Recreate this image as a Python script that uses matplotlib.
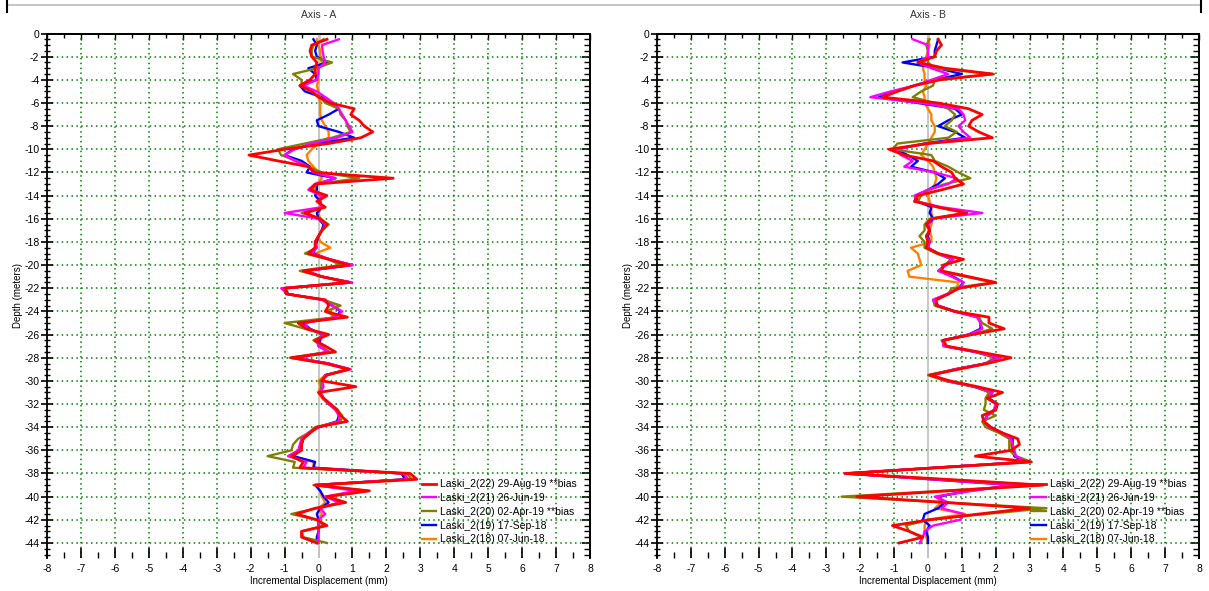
import numpy as np
import matplotlib
matplotlib.use('Agg')
import matplotlib.pyplot as plt
from matplotlib.lines import Line2D
from matplotlib.ticker import MultipleLocator

plt.rcParams['font.family'] = ['Liberation Sans', 'DejaVu Sans']
plt.rcParams['axes.unicode_minus'] = False

# Readings every 0.5 m from -0.5 m down to -44 m
depth = np.arange(1, 89) * -0.5

labels = ['Laski_2(22) 29-Aug-19 **bias', 'Laski_2(21) 26-Jun-19',
          'Laski_2(20) 02-Apr-19 **bias', 'Laski_2(19) 17-Sep-18',
          'Laski_2(18) 07-Jun-18']
colors = ['#ff0000', '#ff00ff', '#808000', '#0000ff', '#ff8000']

# ---- Axis A (mm) ----
a_22 = [0.25, -0.2, -0.25, -0.2, -0.05, -0.1, -0.1, -0.25, -0.55, -0.2,
        0.0, 0.35, 1.05, 0.95, 1.2, 1.35, 1.6, 1.25, 0.3, -1.0,
        -2.05, -1.2, -0.3, -0.1, 2.2, -0.1, -0.25, 0.25, -0.05, 0.2,
        -0.4, 0.05, 0.25, 0.1, 0.0, -0.1, -0.1, -0.3, 0.3, 0.9,
        -0.45, 0.1, 0.9, -1.0, -0.95, 0.2, 0.3, 0.2, 0.85, -0.6,
        -0.35, 0.3, -0.1, 0.2, 0.5, -0.8, 0.2, 0.9, 0.25, 0.1,
        1.1, 0.0, 0.15, 0.35, 0.55, 0.65, 0.85, -0.05, -0.25, -0.45,
        -0.5, -0.5, -0.8, -0.45, -0.55, 2.7, 2.9, -0.1, 1.5, 0.25,
        0.8, -0.1, -0.65, -0.05, 0.25, -0.5, -0.5, -0.05]
a_21 = [0.6, 0.1, 0.12, 0.15, 0.2, 0.0, 0.0, -0.05, -0.45, -0.05,
        0.2, 0.45, 0.6, 0.7, 0.8, 0.9, 1.0, 0.55, -0.2, -0.7,
        -1.0, -0.7, -0.3, -0.15, 0.5, -0.1, -0.3, 0.1, 0.0, 0.1,
        -1.0, 0.0, 0.2, 0.1, 0.0, -0.1, -0.05, -0.2, 0.35, 1.0,
        -0.35, 0.1, 1.0, -1.1, -0.9, 0.1, 0.4, 0.7, 0.5, -0.4,
        -0.3, 0.15, -0.05, 0.0, 0.3, -0.65, 0.3, 0.95, 0.2, 0.1,
        0.15, 0.05, 0.15, 0.3, 0.5, 0.6, 0.6, 0.0, -0.3, -0.5,
        -0.55, -0.6, -0.9, -0.35, -0.45, 2.5, 2.65, -0.1, 1.1, 0.2,
        0.6, 0.05, 0.2, 0.0, 0.0, 0.0, 0.0, 0.0]
a_20 = [0.15, -0.15, -0.2, -0.2, 0.4, -0.05, -0.75, -0.5, -0.5, -0.2,
        0.05, 0.2, 0.6, 0.65, 0.8, 0.85, 0.95, 0.4, -0.4, -1.2,
        -1.1, -0.65, -0.3, 0.1, 1.2, -0.05, -0.2, 0.2, 0.0, 0.1,
        -0.5, 0.05, 0.3, 0.1, 0.0, -0.1, -0.05, -0.4, 0.3, 0.65,
        -0.55, 0.1, 0.85, -1.05, -0.95, 0.15, 0.65, 0.2, 0.55, -1.0,
        -0.4, 0.2, -0.15, 0.1, 0.3, -0.85, 0.25, 0.85, 0.25, 0.05,
        0.1, 0.05, 0.15, 0.35, 0.55, 0.7, 0.65, -0.1, -0.3, -0.6,
        -0.75, -0.8, -1.5, -0.7, -0.75, 2.6, 2.75, -0.15, 1.45, 0.2,
        0.7, -0.05, -0.8, -0.05, 0.15, -0.5, -0.45, 0.25]
a_19 = [-0.15, -0.05, -0.1, -0.05, 0.25, -0.3, -0.1, -0.05, -0.55, -0.4,
        0.1, 0.3, 0.6, 0.3, -0.05, 0.0, 0.6, 1.05, -0.1, -0.75,
        -1.0, -0.5, -0.25, -0.35, 0.5, -0.05, -0.05, -0.1, 0.05, 0.1,
        -0.05, 0.0, 0.15, 0.1, 0.0, -0.05, -0.1, -0.15, 0.3, 1.0,
        -0.4, 0.1, 0.95, -1.0, -0.9, 0.15, 0.4, 0.65, 0.5, -0.45,
        -0.25, 0.1, 0.05, 0.0, 0.3, -0.7, 0.3, 0.9, 0.2, 0.1,
        0.1, 0.05, 0.15, 0.3, 0.55, 0.6, 0.55, 0.0, -0.3, -0.45,
        -0.5, -0.55, -0.75, -0.1, -0.15, 2.45, 2.55, -0.1, 0.05, 0.15,
        0.3, 0.05, -0.05, 0.0, 0.0, 0.0, -0.05, -0.05]
a_18 = [-0.05, 0.0, 0.05, 0.05, 0.1, 0.0, -0.05, 0.0, -0.05, 0.0,
        0.0, 0.05, 0.05, 0.05, 0.1, 0.2, 0.3, 0.3, 0.0, -0.2,
        -0.35, -0.3, -0.15, 0.0, 0.1, -0.05, -0.1, 0.0, 0.05, 0.1,
        0.0, 0.05, 0.15, 0.1, 0.0, 0.05, 0.35, -0.1, 0.3, 0.9,
        -0.4, 0.1, 0.9, -0.95, -0.9, 0.1, 0.6, 0.3, 0.5, -0.6,
        -0.3, 0.15, -0.05, 0.05, 0.3, -0.75, 0.25, 0.9, 0.2, 0.0,
        0.05, 0.0, 0.1, 0.3, 0.5, 0.6, 0.55, 0.0, -0.25, -0.45,
        -0.5, -0.55, -0.75, -0.15, -0.15, 2.45, 2.55, -0.05, 0.05, 0.1,
        0.2, 0.0, 0.1, 0.0, 0.0, 0.0, 0.0, 0.0]

# ---- Axis B (mm) ----
b_22 = [0.3, 0.4, 0.25, 0.2, -0.3, 0.5, 1.9, 0.35, -0.4, -0.9,
        -1.35, 0.3, 1.2, 1.6, 1.3, 1.2, 1.5, 1.9, 0.0, -1.15,
        -0.7, 0.15, 0.4, 0.7, 0.8, 1.05, 0.4, -0.3, -0.4, 0.3,
        1.15, 0.1, -0.05, 0.05, -0.05, 0.0, -0.05, 0.3, 1.05, 0.45,
        0.4, 1.2, 2.0, 0.9, 0.6, 0.25, 0.25, 0.8, 1.8, 1.8,
        2.25, 1.3, 0.45, 0.55, 1.5, 2.45, 1.75, 0.9, 0.05, 0.65,
        1.45, 2.2, 1.75, 2.05, 2.0, 1.6, 1.65, 1.85, 2.2, 2.65,
        2.7, 2.45, 1.4, 3.05, 0.3, -2.45, 0.5, 3.4, 0.6, -2.1,
        0.5, 3.0, 1.5, 0.05, -1.05, -0.55, -0.15, -0.85]
b_21 = [-0.45, 0.0, 0.0, 0.0, -0.3, 0.1, 0.6, 0.1, -0.4, -1.1,
        -1.7, -0.2, 0.9, 1.05, 1.1, 0.9, 1.05, 1.25, 0.0, -0.95,
        -0.8, -0.45, -0.7, 0.2, 0.85, 0.6, 0.0, -0.4, -0.35, 0.4,
        1.6, 0.1, 0.0, 0.05, -0.05, 0.05, 0.0, 0.3, 0.75, 0.55,
        0.3, 0.7, 1.05, 0.95, 0.55, 0.15, 0.3, 0.75, 1.45, 1.55,
        1.6, 1.2, 0.45, 0.45, 1.4, 2.15, 1.7, 0.8, 0.15, 0.55,
        1.4, 1.9, 1.75, 2.0, 1.95, 1.75, 1.65, 1.8, 2.2, 2.45,
        2.5, 2.55, 2.6, 2.9, 0.2, -2.45, 0.1, 2.6, 1.3, 0.2,
        0.6, 0.4, 1.05, 0.95, 0.15, -0.1, -0.15, -0.25]
b_20 = [0.05, -0.05, 0.0, 0.0, 0.0, 0.2, 1.95, 0.2, 0.15, -0.2,
        -0.45, 0.2, 0.6, 0.8, 0.7, 0.5, 0.85, 0.6, -0.9, -1.05,
        0.1, 0.2, 0.6, 0.9, 1.25, 0.5, 0.0, -0.2, -0.3, 0.3,
        1.1, 0.05, -0.1, -0.1, -0.25, -0.1, -0.1, 0.25, 0.7, 0.5,
        0.3, 1.1, 1.95, 0.7, 0.6, 0.15, 0.2, 0.8, 1.5, 1.6,
        1.9, 1.3, 0.4, 0.5, 1.4, 2.1, 1.7, 0.8, 0.0, 0.5,
        1.4, 1.8, 1.7, 1.7, 1.65, 2.0, 1.6, 1.7, 2.1, 2.4,
        2.4, 2.4, 2.6, 3.05, 0.3, -2.4, 0.4, 3.3, 0.4, -2.55,
        0.5, 3.5, 1.7, 0.0, -0.65, -0.55, -0.2, -0.2]
b_19 = [0.3, 0.25, 0.2, 0.2, -0.75, 0.3, 1.0, 0.2, -0.4, -1.0,
        -1.45, -0.3, 0.8, 1.0, 0.6, 0.3, 0.8, 1.1, -0.1, -0.95,
        -0.6, -0.3, -0.5, 0.2, 0.5, 0.3, 0.0, -0.35, -0.3, 0.1,
        0.05, 0.15, 0.0, 0.05, 0.0, 0.05, 0.0, 0.3, 0.7, 0.5,
        0.35, 0.75, 1.05, 0.9, 0.6, 0.2, 0.3, 0.8, 1.5, 1.55,
        1.55, 1.2, 0.45, 0.5, 1.4, 2.05, 1.7, 0.8, 0.1, 0.55,
        1.35, 1.9, 1.8, 2.05, 2.0, 1.75, 1.65, 1.85, 2.2, 2.5,
        2.5, 2.5, 2.55, 2.9, 0.2, -2.4, 0.1, 2.55, 1.2, 0.3,
        0.5, 0.3, -0.1, -0.15, 0.05, -0.05, 0.0, 0.0]
b_18 = [0.0, 0.05, 0.0, -0.05, -0.1, -0.15, -0.1, -0.1, -0.05, -0.15,
        -0.1, -0.1, 0.0, 0.1, 0.1, 0.2, 0.2, 0.1, 0.0, -0.1,
        -0.2, 0.0, 0.15, 0.2, 0.25, 0.2, 0.1, 0.0, 0.05, 0.1,
        0.1, 0.15, 0.1, 0.05, 0.1, 0.1, -0.5, -0.3, -0.25, -0.2,
        -0.6, -0.55, 0.9, 0.85, 0.6, 0.2, 0.25, 0.8, 1.45, 1.55,
        1.6, 1.2, 0.45, 0.5, 1.4, 1.95, 1.7, 0.8, 0.05, 0.5,
        1.35, 1.85, 1.75, 2.0, 1.95, 1.75, 1.65, 1.8, 2.15, 2.45,
        2.45, 2.5, 2.55, 2.85, 0.2, -2.35, 0.1, 2.5, 1.2, 0.25,
        0.4, 0.2, 1.1, -0.05, -0.1, -0.1, -0.05, 0.0]

panels = [('Axis - A', [a_22, a_21, a_20, a_19, a_18]),
          ('Axis - B', [b_22, b_21, b_20, b_19, b_18])]

fig = plt.figure(figsize=(12.09, 5.91), dpi=100)
positions = [[0.0389, 0.0558, 0.4491, 0.8875],
             [0.5434, 0.0558, 0.4483, 0.8875]]

for pos, (title, series) in zip(positions, panels):
    ax = fig.add_axes(pos)
    ax.set_xlim(-8, 8)
    ax.set_ylim(-45.3, 0)

    ax.grid(True, which='major', color='#008000', linestyle=(0, (1, 2.2)), linewidth=1.1)
    ax.axvline(0, color='#c8c8c8', linewidth=1.4, zorder=2)

    # oldest reading underneath, latest on top
    for i in reversed(range(5)):
        lw = 2.0 if i == 0 else 1.7
        ax.plot(series[i], depth, color=colors[i], lw=lw, label=labels[i], zorder=3 + (4 - i))

    ax.xaxis.set_major_locator(MultipleLocator(1))
    ax.xaxis.set_minor_locator(MultipleLocator(0.5))
    ax.yaxis.set_major_locator(MultipleLocator(2))
    ax.yaxis.set_minor_locator(MultipleLocator(0.5))
    ax.set_yticks(np.arange(0, -45, -2))
    ax.tick_params(axis='x', which='major', direction='in', length=7, width=1.2,
                   labelsize=7.5, pad=4, top=False)
    ax.tick_params(axis='x', which='minor', direction='in', length=4, width=1, top=False)
    ax.tick_params(axis='y', which='major', direction='inout', length=9, width=1.2,
                   labelsize=7.5, pad=1)
    ax.tick_params(axis='y', which='minor', direction='inout', length=5, width=1)

    ax.spines['bottom'].set_visible(False)
    for s in ['left', 'top', 'right']:
        ax.spines[s].set_linewidth(1.3)

    top = ax.secondary_xaxis('top')
    top.xaxis.set_major_locator(MultipleLocator(1))
    top.xaxis.set_minor_locator(MultipleLocator(0.5))
    top.tick_params(which='major', direction='in', length=4, width=1, labeltop=False)
    top.tick_params(which='minor', direction='in', length=3, width=1)
    top.spines['top'].set_linewidth(1.3)

    right = ax.secondary_yaxis('right')
    right.yaxis.set_major_locator(MultipleLocator(2))
    right.yaxis.set_minor_locator(MultipleLocator(0.5))
    right.tick_params(which='major', direction='in', length=6, width=1.2, labelright=False)
    right.tick_params(which='minor', direction='in', length=4, width=1)
    right.spines['right'].set_linewidth(1.3)

    ax.set_xlabel('Incremental Displacement (mm)', fontsize=7, labelpad=2)
    ax.set_ylabel('Depth (meters)', fontsize=7, labelpad=1)
    ax.set_title(title, fontsize=7.5, color='#333333', pad=11)

    handles, lbls = ax.get_legend_handles_labels()
    ax.legend(handles[::-1], lbls[::-1], loc='lower left', bbox_to_anchor=(0.69, 0.026),
              frameon=False, fontsize=7.5, handlelength=1.4, handletextpad=0.4,
              labelspacing=0.36, borderpad=0, borderaxespad=0)

# frame edge along the top of the page
fig.add_artist(Line2D([7 / 1209, 1201 / 1209], [1 - 5 / 591, 1 - 5 / 591],
                      color='#bbbbbb', lw=1.2))
fig.add_artist(Line2D([7 / 1209, 7 / 1209], [1.0, 1 - 12 / 591], color='black', lw=1.5))
fig.add_artist(Line2D([1201 / 1209, 1201 / 1209], [1.0, 1 - 12 / 591], color='black', lw=1.5))

fig.savefig('out.png', dpi=100)
